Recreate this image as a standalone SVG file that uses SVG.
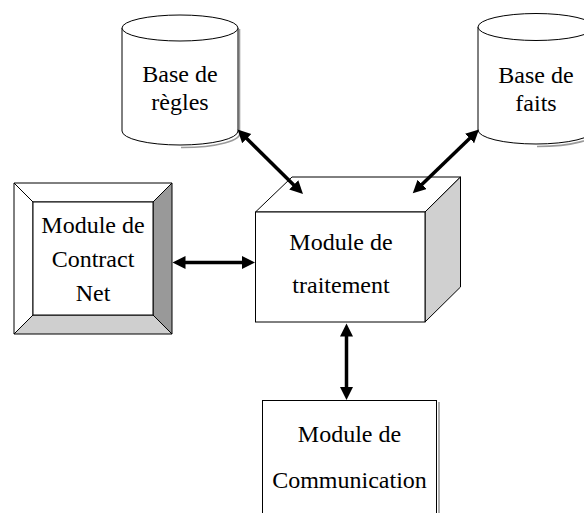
<svg xmlns="http://www.w3.org/2000/svg" width="584" height="513" viewBox="0 0 584 513">
  <style>
    .shape { stroke: #000; stroke-width: 1; stroke-linejoin: miter; }
    .label { font-family: "Liberation Serif", "Times New Roman", serif; font-size: 24px; fill: #000; text-anchor: middle; }
    .link { stroke: #000; stroke-width: 3.5; fill: none; marker-start: url(#head); marker-end: url(#head); }
    .shadow { stroke: #9a9a9a; stroke-width: 1.6; fill: none; }
  </style>
  <defs>
    <marker id="head" markerUnits="userSpaceOnUse" markerWidth="14" markerHeight="14" refX="5" refY="6.5" orient="auto-start-reverse">
      <path d="M0,0 L13,6.5 L0,13 Z" fill="#000"/>
    </marker>
  </defs>

  <rect width="584" height="513" fill="#fff"/>

  <!-- Rule base cylinder -->
  <g id="base-regles">
    <path class="shadow" d="M239.5,29 V132 A58,14 0 0 1 181,147.5"/>
    <path class="shape" fill="#fff" d="M122,28 V131 A58,14 0 0 0 238,131 V28"/>
    <ellipse class="shape" fill="#fff" cx="180" cy="28" rx="58" ry="13"/>
    <text class="label" x="180" y="82">Base de</text>
    <text class="label" x="180" y="110">règles</text>
  </g>

  <!-- Fact base cylinder (runs past the right edge) -->
  <g id="base-faits">
    <path class="shadow" d="M537,146.5 A58,14 0 0 0 595,131"/>
    <path class="shape" fill="#fff" d="M478,27 V130 A58,14 0 0 0 594,130 V27"/>
    <ellipse class="shape" fill="#fff" cx="536" cy="27" rx="58" ry="13.5"/>
    <text class="label" x="536" y="83">Base de</text>
    <text class="label" x="536" y="111">faits</text>
  </g>

  <!-- Bevelled button: Contract Net module -->
  <g id="module-contract-net">
    <polygon class="shape" fill="#fff" points="14,183 172,183 153,202 33,202"/>
    <polygon class="shape" fill="#fff" points="14,183 33,202 33,315 14,334"/>
    <polygon class="shape" fill="#999" points="172,183 172,334 153,315 153,202"/>
    <polygon class="shape" fill="#cfcfcf" points="14,334 33,315 153,315 172,334"/>
    <rect class="shape" fill="#fff" x="33" y="202" width="120" height="113"/>
    <text class="label" x="93" y="233">Module de</text>
    <text class="label" x="93" y="267">Contract</text>
    <text class="label" x="93" y="301">Net</text>
  </g>

  <!-- Processing module drawn as a cube -->
  <g id="module-traitement">
    <polygon class="shape" fill="#fff" points="255.5,212 292,177 460.5,177 425,212"/>
    <polygon class="shape" fill="#d0d0d0" points="425,212 460.5,177 460.5,287 425,322"/>
    <rect class="shape" fill="#fff" x="255.5" y="212" width="169.5" height="110"/>
    <text class="label" x="341" y="250">Module de</text>
    <text class="label" x="341" y="293">traitement</text>
  </g>

  <!-- Communication module (continues below the frame) -->
  <g id="module-communication">
    <line class="shadow" x1="439" y1="402" x2="439" y2="513"/>
    <rect class="shape" fill="#fff" x="262.5" y="400.5" width="174" height="130"/>
    <text class="label" x="349.5" y="442">Module de</text>
    <text class="label" x="349.5" y="488">Communication</text>
  </g>

  <!-- Two-way links -->
  <g id="connectors">
    <line class="link" x1="180.5" y1="262.5" x2="247" y2="262.5"/>
    <line class="link" x1="243.2" y1="135.1" x2="297.3" y2="188.4"/>
    <line class="link" x1="473.2" y1="135" x2="418.5" y2="187.8"/>
    <line class="link" x1="346.5" y1="331.5" x2="346.5" y2="392"/>
  </g>
</svg>
